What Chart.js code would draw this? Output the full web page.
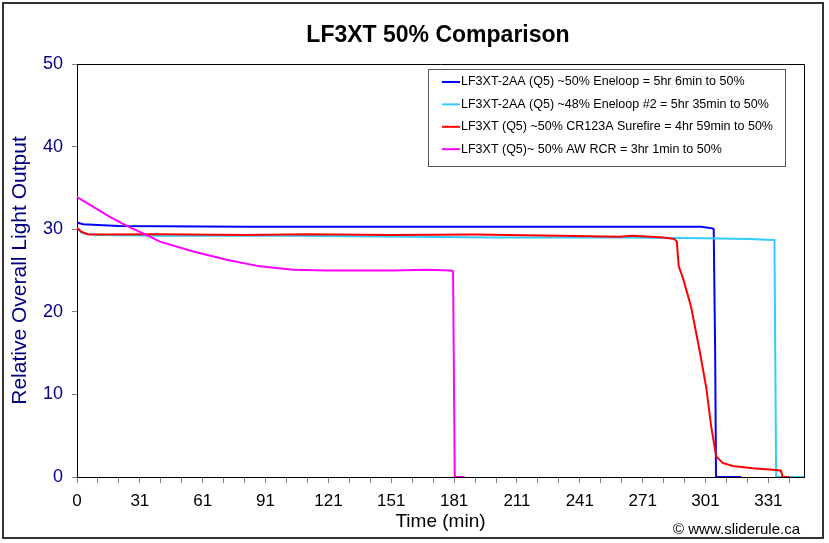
<!DOCTYPE html>
<html>
<head>
<meta charset="utf-8">
<script src="https://cdn.jsdelivr.net/npm/chart.js@4.4.0/dist/chart.umd.min.js"></script>
<style>
  html, body { margin: 0; padding: 0; background: #fff; }
  #wrap { width: 829px; height: 543px; }
</style>
</head>
<body>
<div id="wrap"><canvas id="grafico" width="829" height="543"></canvas></div>
<script>
// Datos (tiempo en minutos aprox., salida relativa)
const seriesLabels = [
    'LF3XT-2AA (Q5) ~50% Eneloop = 5hr 6min to 50%',
    'LF3XT-2AA (Q5) ~48% Eneloop #2 = 5hr 35min to 50%',
    'LF3XT (Q5) ~50% CR123A Surefire = 4hr 59min to 50%',
    'LF3XT (Q5)~ 50% AW RCR = 3hr 1min to 50%'
];
const seriesColors = ['#0000FF', '#33CCFF', '#FF0000', '#FF00FF'];

const blueTime   = [0, 3, 10, 20, 40, 80, 120, 160, 200, 240, 270, 290, 297.9, 303.4, 303.9, 304.6, 305, 317];
const blueOutput = [30.8, 30.6, 30.5, 30.4, 30.35, 30.3, 30.3, 30.3, 30.3, 30.3, 30.3, 30.3, 30.3, 30.1, 30.0, 15, 0, 0];

const cyanTime   = [0, 2, 5, 12, 40, 100, 160, 200, 260, 300, 320, 332.9, 333.7, 347];
const cyanOutput = [30.2, 29.6, 29.4, 29.3, 29.2, 29.2, 29.1, 29.0, 29.0, 28.9, 28.8, 28.7, 0, 0];

const redTime   = [0, 2, 5, 10, 40, 80, 110, 150, 190, 230, 258.9, 265.1, 280, 285.2, 286.3, 287.2, 289.1, 293.1, 297.1, 300.3, 302.7, 305.1, 308.2, 313, 322.5, 333.7, 336, 336.8, 340];
const redOutput = [30.2, 29.7, 29.4, 29.35, 29.4, 29.3, 29.4, 29.3, 29.35, 29.2, 29.1, 29.2, 29.0, 28.8, 28.5, 25.5, 24.2, 20.6, 15.4, 10.9, 6.1, 2.5, 1.7, 1.33, 1.05, 0.85, 0.76, 0, 0];

const pinkTime   = [0, 7.8, 15.7, 23.7, 31.6, 39.6, 55.5, 71.4, 87.3, 103.1, 119.1, 150.8, 166.8, 178.7, 179.5, 180.3, 185];
const pinkOutput = [33.9, 32.7, 31.5, 30.4, 29.5, 28.5, 27.3, 26.3, 25.5, 25.1, 25.0, 25.0, 25.1, 25.0, 24.9, 0, 0];

const xTickLabels = ['0', '31', '61', '91', '121', '151', '181', '211', '241', '271', '301', '331'];

const FONT = 'Arial, "Liberation Sans", sans-serif';

function puntos(tiempos, valores) {
    return tiempos.map((t, i) => ({ x: t, y: valores[i] }));
}

// Titulo, leyenda, marcos y texto de copyright
const extras = {
    id: 'extras',
    afterDraw(chart) {
        const ctx = chart.ctx;
        const a = chart.chartArea;
        ctx.save();
        // marco exterior
        ctx.strokeStyle = '#333';
        ctx.lineWidth = 2;
        ctx.strokeRect(3, 3, 820, 535);
        // borde superior y derecho del area
        ctx.strokeStyle = '#000';
        ctx.lineWidth = 1;
        ctx.beginPath();
        ctx.moveTo(a.left, a.top + 0.5);
        ctx.lineTo(a.right + 0.5, a.top + 0.5);
        ctx.lineTo(a.right + 0.5, a.bottom);
        ctx.stroke();
        // titulo
        ctx.fillStyle = '#000';
        ctx.font = 'bold 23px ' + FONT;
        ctx.textAlign = 'center';
        ctx.textBaseline = 'middle';
        ctx.fillText('LF3XT 50% Comparison', 438, 36);
        // leyenda
        ctx.fillStyle = '#fff';
        ctx.fillRect(428, 69, 357, 97);
        ctx.strokeStyle = '#555';
        ctx.strokeRect(428.5, 69.5, 357, 97);
        ctx.font = '12.5px ' + FONT;
        ctx.textAlign = 'left';
        chart.data.datasets.forEach((ds, i) => {
            const y = 82 + i * 22.4;
            ctx.strokeStyle = ds.borderColor;
            ctx.lineWidth = 2;
            ctx.beginPath();
            ctx.moveTo(442, y);
            ctx.lineTo(460, y);
            ctx.stroke();
            ctx.fillStyle = '#000';
            ctx.fillText(ds.label, 461, y);
        });
        // copyright
        ctx.font = '15px ' + FONT;
        ctx.textAlign = 'right';
        ctx.fillText('\u00A9 www.sliderule.ca', 800, 530);
        ctx.restore();
    }
};

document.addEventListener("DOMContentLoaded", function() {
    Chart.defaults.font.family = FONT;
    const ctx = document.getElementById('grafico').getContext('2d');
    const tiempos = [blueTime, cyanTime, redTime, pinkTime];
    const valores = [blueOutput, cyanOutput, redOutput, pinkOutput];
    new Chart(ctx, {
        type: 'line',
        data: {
            datasets: seriesLabels.map((label, i) => ({
                label: label,
                data: puntos(tiempos[i], valores[i]),
                borderColor: seriesColors[i],
                backgroundColor: seriesColors[i],
                borderWidth: 2,
                pointRadius: 0,
                tension: 0,
                order: 4 - i
            }))
        },
        options: {
            responsive: false,
            animation: false,
            events: [],
            layout: { padding: { top: 64, right: 25, bottom: 0, left: 0 } },
            plugins: {
                legend: { display: false },
                title: { display: false },
                tooltip: { enabled: false }
            },
            scales: {
                x: {
                    type: 'linear',
                    min: 0,
                    max: 347,
                    afterFit: s => { s.height = 66; },
                    ticks: {
                        stepSize: 10,
                        includeBounds: false,
                        autoSkip: false,
                        maxRotation: 0,
                        padding: 8,
                        color: '#000',
                        font: { size: 17 },
                        callback: v => {
                            const k = Math.round(v / 10);
                            return k % 3 === 0 ? (xTickLabels[k / 3] || '') : '';
                        }
                    },
                    grid: { drawOnChartArea: false, color: '#808080', tickLength: 6 },
                    border: { color: '#000', width: 1 },
                    title: {
                        display: true,
                        text: 'Time (min)',
                        color: '#000',
                        font: { size: 19 },
                        padding: { top: 0, bottom: 10 }
                    }
                },
                y: {
                    min: 0,
                    max: 50,
                    afterFit: s => { s.width = 77; },
                    ticks: {
                        stepSize: 10,
                        padding: 9,
                        color: '#000080',
                        font: { size: 18 }
                    },
                    grid: { drawOnChartArea: false, color: '#808080', tickLength: 5 },
                    border: { color: '#000', width: 1 },
                    title: {
                        display: true,
                        text: 'Relative Overall Light Output',
                        color: '#000080',
                        font: { size: 21 },
                        padding: { top: 8, bottom: 0 }
                    }
                }
            }
        },
        plugins: [extras]
    });
});
</script>
</body>
</html>
